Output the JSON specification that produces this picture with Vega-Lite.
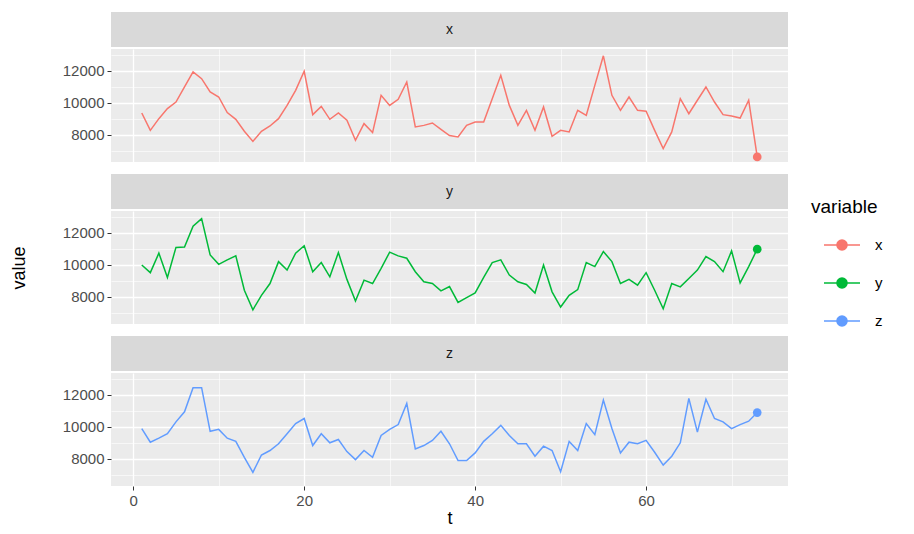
{
  "$schema": "https://vega.github.io/schema/vega-lite/v6.json",
  "background": "white",
  "padding": {"left": 10, "top": 12, "right": 0, "bottom": 0},
  "autosize": {"type": "pad"},
  "datasets": {
    "strips": [{"variable": "x"}, {"variable": "y"}, {"variable": "z"}],
    "series": [
      {"t":1,"variable":"x","value":9375},{"t":2,"variable":"x","value":8290},{"t":3,"variable":"x","value":9020},{"t":4,"variable":"x","value":9650},{"t":5,"variable":"x","value":10060},{"t":6,"variable":"x","value":11000},{"t":7,"variable":"x","value":11940},{"t":8,"variable":"x","value":11520},{"t":9,"variable":"x","value":10690},{"t":10,"variable":"x","value":10375},
      {"t":11,"variable":"x","value":9400},{"t":12,"variable":"x","value":8980},{"t":13,"variable":"x","value":8230},{"t":14,"variable":"x","value":7600},{"t":15,"variable":"x","value":8230},{"t":16,"variable":"x","value":8560},{"t":17,"variable":"x","value":9020},{"t":18,"variable":"x","value":9850},{"t":19,"variable":"x","value":10790},{"t":20,"variable":"x","value":11980},
      {"t":21,"variable":"x","value":9270},{"t":22,"variable":"x","value":9790},{"t":23,"variable":"x","value":8980},{"t":24,"variable":"x","value":9375},{"t":25,"variable":"x","value":8920},{"t":26,"variable":"x","value":7670},{"t":27,"variable":"x","value":8710},{"t":28,"variable":"x","value":8150},{"t":29,"variable":"x","value":10480},{"t":30,"variable":"x","value":9850},
      {"t":31,"variable":"x","value":10230},{"t":32,"variable":"x","value":11310},{"t":33,"variable":"x","value":8500},{"t":34,"variable":"x","value":8600},{"t":35,"variable":"x","value":8750},{"t":36,"variable":"x","value":8350},{"t":37,"variable":"x","value":7960},{"t":38,"variable":"x","value":7875},{"t":39,"variable":"x","value":8600},{"t":40,"variable":"x","value":8810},
      {"t":41,"variable":"x","value":8810},{"t":42,"variable":"x","value":10270},{"t":43,"variable":"x","value":11730},{"t":44,"variable":"x","value":9850},{"t":45,"variable":"x","value":8600},{"t":46,"variable":"x","value":9540},{"t":47,"variable":"x","value":8290},{"t":48,"variable":"x","value":9750},{"t":49,"variable":"x","value":7920},{"t":50,"variable":"x","value":8290},
      {"t":51,"variable":"x","value":8190},{"t":52,"variable":"x","value":9540},{"t":53,"variable":"x","value":9230},{"t":54,"variable":"x","value":11100},{"t":55,"variable":"x","value":12950},{"t":56,"variable":"x","value":10480},{"t":57,"variable":"x","value":9540},{"t":58,"variable":"x","value":10375},{"t":59,"variable":"x","value":9540},{"t":60,"variable":"x","value":9480},
      {"t":61,"variable":"x","value":8290},{"t":62,"variable":"x","value":7150},{"t":63,"variable":"x","value":8190},{"t":64,"variable":"x","value":10270},{"t":65,"variable":"x","value":9330},{"t":66,"variable":"x","value":10170},{"t":67,"variable":"x","value":11000},{"t":68,"variable":"x","value":10060},{"t":69,"variable":"x","value":9270},{"t":70,"variable":"x","value":9190},
      {"t":71,"variable":"x","value":9060},{"t":72,"variable":"x","value":10170},{"t":73,"variable":"x","value":6630},
      {"t":1,"variable":"y","value":10000},{"t":2,"variable":"y","value":9520},{"t":3,"variable":"y","value":10740},{"t":4,"variable":"y","value":9220},{"t":5,"variable":"y","value":11100},{"t":6,"variable":"y","value":11120},{"t":7,"variable":"y","value":12420},{"t":8,"variable":"y","value":12900},{"t":9,"variable":"y","value":10630},{"t":10,"variable":"y","value":10040},
      {"t":11,"variable":"y","value":10320},{"t":12,"variable":"y","value":10570},{"t":13,"variable":"y","value":8420},{"t":14,"variable":"y","value":7200},{"t":15,"variable":"y","value":8100},{"t":16,"variable":"y","value":8840},{"t":17,"variable":"y","value":10210},{"t":18,"variable":"y","value":9680},{"t":19,"variable":"y","value":10740},{"t":20,"variable":"y","value":11200},
      {"t":21,"variable":"y","value":9580},{"t":22,"variable":"y","value":10150},{"t":23,"variable":"y","value":9260},{"t":24,"variable":"y","value":10780},{"t":25,"variable":"y","value":9100},{"t":26,"variable":"y","value":7750},{"t":27,"variable":"y","value":9050},{"t":28,"variable":"y","value":8840},{"t":29,"variable":"y","value":9790},{"t":30,"variable":"y","value":10800},
      {"t":31,"variable":"y","value":10570},{"t":32,"variable":"y","value":10420},{"t":33,"variable":"y","value":9580},{"t":34,"variable":"y","value":8950},{"t":35,"variable":"y","value":8840},{"t":36,"variable":"y","value":8380},{"t":37,"variable":"y","value":8650},{"t":38,"variable":"y","value":7660},{"t":39,"variable":"y","value":7960},{"t":40,"variable":"y","value":8250},
      {"t":41,"variable":"y","value":9220},{"t":42,"variable":"y","value":10150},{"t":43,"variable":"y","value":10320},{"t":44,"variable":"y","value":9370},{"t":45,"variable":"y","value":8950},{"t":46,"variable":"y","value":8780},{"t":47,"variable":"y","value":8250},{"t":48,"variable":"y","value":10000},{"t":49,"variable":"y","value":8320},{"t":50,"variable":"y","value":7370},
      {"t":51,"variable":"y","value":8100},{"t":52,"variable":"y","value":8460},{"t":53,"variable":"y","value":10150},{"t":54,"variable":"y","value":9900},{"t":55,"variable":"y","value":10840},{"t":56,"variable":"y","value":10210},{"t":57,"variable":"y","value":8840},{"t":58,"variable":"y","value":9100},{"t":59,"variable":"y","value":8740},{"t":60,"variable":"y","value":9520},
      {"t":61,"variable":"y","value":8420},{"t":62,"variable":"y","value":7260},{"t":63,"variable":"y","value":8840},{"t":64,"variable":"y","value":8630},{"t":65,"variable":"y","value":9160},{"t":66,"variable":"y","value":9680},{"t":67,"variable":"y","value":10530},{"t":68,"variable":"y","value":10210},{"t":69,"variable":"y","value":9580},{"t":70,"variable":"y","value":10880},
      {"t":71,"variable":"y","value":8880},{"t":72,"variable":"y","value":9900},{"t":73,"variable":"y","value":10990},
      {"t":1,"variable":"z","value":9900},{"t":2,"variable":"z","value":9050},{"t":3,"variable":"z","value":9300},{"t":4,"variable":"z","value":9580},{"t":5,"variable":"z","value":10320},{"t":6,"variable":"z","value":10950},{"t":7,"variable":"z","value":12460},{"t":8,"variable":"z","value":12460},{"t":9,"variable":"z","value":9730},{"t":10,"variable":"z","value":9850},
      {"t":11,"variable":"z","value":9300},{"t":12,"variable":"z","value":9100},{"t":13,"variable":"z","value":8100},{"t":14,"variable":"z","value":7160},{"t":15,"variable":"z","value":8250},{"t":16,"variable":"z","value":8530},{"t":17,"variable":"z","value":8950},{"t":18,"variable":"z","value":9580},{"t":19,"variable":"z","value":10210},{"t":20,"variable":"z","value":10530},
      {"t":21,"variable":"z","value":8840},{"t":22,"variable":"z","value":9580},{"t":23,"variable":"z","value":9010},{"t":24,"variable":"z","value":9220},{"t":25,"variable":"z","value":8460},{"t":26,"variable":"z","value":7960},{"t":27,"variable":"z","value":8530},{"t":28,"variable":"z","value":8100},{"t":29,"variable":"z","value":9470},{"t":30,"variable":"z","value":9850},
      {"t":31,"variable":"z","value":10150},{"t":32,"variable":"z","value":11470},{"t":33,"variable":"z","value":8630},{"t":34,"variable":"z","value":8840},{"t":35,"variable":"z","value":9160},{"t":36,"variable":"z","value":9730},{"t":37,"variable":"z","value":8950},{"t":38,"variable":"z","value":7900},{"t":39,"variable":"z","value":7900},{"t":40,"variable":"z","value":8380},
      {"t":41,"variable":"z","value":9100},{"t":42,"variable":"z","value":9580},{"t":43,"variable":"z","value":10100},{"t":44,"variable":"z","value":9470},{"t":45,"variable":"z","value":8950},{"t":46,"variable":"z","value":8950},{"t":47,"variable":"z","value":8170},{"t":48,"variable":"z","value":8800},{"t":49,"variable":"z","value":8530},{"t":50,"variable":"z","value":7200},
      {"t":51,"variable":"z","value":9100},{"t":52,"variable":"z","value":8530},{"t":53,"variable":"z","value":10210},{"t":54,"variable":"z","value":9520},{"t":55,"variable":"z","value":11680},{"t":56,"variable":"z","value":9900},{"t":57,"variable":"z","value":8380},{"t":58,"variable":"z","value":9050},{"t":59,"variable":"z","value":8950},{"t":60,"variable":"z","value":9160},
      {"t":61,"variable":"z","value":8420},{"t":62,"variable":"z","value":7620},{"t":63,"variable":"z","value":8170},{"t":64,"variable":"z","value":9010},{"t":65,"variable":"z","value":11790},{"t":66,"variable":"z","value":9680},{"t":67,"variable":"z","value":11730},{"t":68,"variable":"z","value":10530},{"t":69,"variable":"z","value":10320},{"t":70,"variable":"z","value":9900},
      {"t":71,"variable":"z","value":10150},{"t":72,"variable":"z","value":10360},{"t":73,"variable":"z","value":10900}
    ]
  },
  "config": {
    "font": "Liberation Sans",
    "view": {"stroke": null},
    "axis": {
      "domain": false,
      "gridColor": "white",
      "tickColor": "#333333",
      "labelColor": "#4D4D4D",
      "labelFontSize": 15,
      "labelFont": "Liberation Sans",
      "titleFontSize": 18,
      "titleFontWeight": "normal",
      "titleColor": "#000000",
      "titleFont": "Liberation Sans",
      "tickSize": 4,
      "labelPadding": 3,
      "labelOverlap": false,
      "labelFlush": false
    },
    "legend": {
      "titleFontSize": 19,
      "titleFontWeight": "normal",
      "titleColor": "#000000",
      "labelFontSize": 15,
      "labelColor": "#000000",
      "titleFont": "Liberation Sans",
      "labelFont": "Liberation Sans"
    }
  },
  "spacing": 12,
  "vconcat": [
    {
      "spacing": 0,
      "vconcat": [
        {
          "width": 677, "height": 35,
          "data": {"name": "strips"},
          "transform": [{"filter": "datum.variable === 'x'"}],
          "view": {"fill": "#D9D9D9", "stroke": null},
          "mark": {"type": "text", "fontSize": 14, "color": "#1A1A1A", "font": "Liberation Sans"},
          "encoding": {"text": {"field": "variable", "type": "nominal"}}
        },
        {
          "width": 677, "height": 113,
          "data": {"name": "series"},
          "transform": [{"filter": "datum.variable === 'x'"}],
          "view": {"fill": "#EBEBEB", "stroke": null},
          "encoding": {
            "x": {"field": "t", "type": "quantitative", "scale": {"domain": [-2.6, 76.6], "nice": false, "zero": false},
                  "axis": {"values": [0,10,20,30,40,50,60,70], "labels": false, "ticks": false, "title": null,
                           "gridWidth": {"condition": {"test": "datum.value % 20 === 0", "value": 1.3}, "value": 0.6}}},
            "y": {"field": "value", "type": "quantitative", "scale": {"domain": [6310, 13375], "nice": false, "zero": false},
                  "axis": {"values": [7000,8000,9000,10000,11000,12000,13000], "title": null,
                           "labelExpr": "datum.value % 2000 === 0 ? datum.value : ''",
                           "tickOpacity": {"condition": {"test": "datum.value % 2000 === 0", "value": 1}, "value": 0},
                           "gridWidth": {"condition": {"test": "datum.value % 2000 === 0", "value": 1.3}, "value": 0.6}}},
            "color": {"field": "variable", "type": "nominal",
                      "scale": {"domain": ["x","y","z"], "range": ["#F8766D","#00BA38","#619CFF"]},
                      "legend": {"title": "variable", "orient": "none", "legendX": 700, "legendY": 186,
                                 "symbolType": "M-1,0L1,0M-0.28,0A0.28,0.28 0 1 0 0.28,0A0.28,0.28 0 1 0 -0.28,0Z",
                                 "symbolSize": 1296, "symbolStrokeWidth": 1.5, "symbolOffset": 12, "rowPadding": 10, "titlePadding": 9, "labelOffset": 14,
                                 "encode": {"symbols": {"update": {"fill": {"scale": "color", "field": "value"}, "stroke": {"scale": "color", "field": "value"}, "opacity": {"value": 1}}}}}}
          },
          "layer": [
            {"mark": {"type": "line", "strokeWidth": 1.5}},
            {"transform": [{"filter": "datum.t === 73"}], "mark": {"type": "circle", "size": 75, "opacity": 1}}
          ]
        }
      ]
    },
    {
      "spacing": 0,
      "vconcat": [
        {
          "width": 677, "height": 35,
          "data": {"name": "strips"},
          "transform": [{"filter": "datum.variable === 'y'"}],
          "view": {"fill": "#D9D9D9", "stroke": null},
          "mark": {"type": "text", "fontSize": 14, "color": "#1A1A1A", "font": "Liberation Sans"},
          "encoding": {"text": {"field": "variable", "type": "nominal"}}
        },
        {
          "width": 677, "height": 113,
          "data": {"name": "series"},
          "transform": [{"filter": "datum.variable === 'y'"}],
          "view": {"fill": "#EBEBEB", "stroke": null},
          "encoding": {
            "x": {"field": "t", "type": "quantitative", "scale": {"domain": [-2.6, 76.6], "nice": false, "zero": false},
                  "axis": {"values": [0,10,20,30,40,50,60,70], "labels": false, "ticks": false, "title": null,
                           "gridWidth": {"condition": {"test": "datum.value % 20 === 0", "value": 1.3}, "value": 0.6}}},
            "y": {"field": "value", "type": "quantitative", "scale": {"domain": [6310, 13375], "nice": false, "zero": false},
                  "axis": {"values": [7000,8000,9000,10000,11000,12000,13000], "title": "value", "titlePadding": 34,
                           "labelExpr": "datum.value % 2000 === 0 ? datum.value : ''",
                           "tickOpacity": {"condition": {"test": "datum.value % 2000 === 0", "value": 1}, "value": 0},
                           "gridWidth": {"condition": {"test": "datum.value % 2000 === 0", "value": 1.3}, "value": 0.6}}},
            "color": {"field": "variable", "type": "nominal",
                      "scale": {"domain": ["x","y","z"], "range": ["#F8766D","#00BA38","#619CFF"]},
                      "legend": {"title": "variable", "orient": "none", "legendX": 700, "legendY": 186,
                                 "symbolType": "M-1,0L1,0M-0.28,0A0.28,0.28 0 1 0 0.28,0A0.28,0.28 0 1 0 -0.28,0Z",
                                 "symbolSize": 1296, "symbolStrokeWidth": 1.5, "symbolOffset": 12, "rowPadding": 10, "titlePadding": 9, "labelOffset": 14,
                                 "encode": {"symbols": {"update": {"fill": {"scale": "color", "field": "value"}, "stroke": {"scale": "color", "field": "value"}, "opacity": {"value": 1}}}}}}
          },
          "layer": [
            {"mark": {"type": "line", "strokeWidth": 1.5}},
            {"transform": [{"filter": "datum.t === 73"}], "mark": {"type": "circle", "size": 75, "opacity": 1}}
          ]
        }
      ]
    },
    {
      "spacing": 0,
      "vconcat": [
        {
          "width": 677, "height": 35,
          "data": {"name": "strips"},
          "transform": [{"filter": "datum.variable === 'z'"}],
          "view": {"fill": "#D9D9D9", "stroke": null},
          "mark": {"type": "text", "fontSize": 14, "color": "#1A1A1A", "font": "Liberation Sans"},
          "encoding": {"text": {"field": "variable", "type": "nominal"}}
        },
        {
          "width": 677, "height": 113,
          "data": {"name": "series"},
          "transform": [{"filter": "datum.variable === 'z'"}],
          "view": {"fill": "#EBEBEB", "stroke": null},
          "encoding": {
            "x": {"field": "t", "type": "quantitative", "scale": {"domain": [-2.6, 76.6], "nice": false, "zero": false},
                  "axis": {"values": [0,10,20,30,40,50,60,70], "title": "t", "titlePadding": 1,
                           "labelExpr": "datum.value % 20 === 0 ? datum.value : ''",
                           "tickOpacity": {"condition": {"test": "datum.value % 20 === 0", "value": 1}, "value": 0},
                           "gridWidth": {"condition": {"test": "datum.value % 20 === 0", "value": 1.3}, "value": 0.6}}},
            "y": {"field": "value", "type": "quantitative", "scale": {"domain": [6310, 13375], "nice": false, "zero": false},
                  "axis": {"values": [7000,8000,9000,10000,11000,12000,13000], "title": null,
                           "labelExpr": "datum.value % 2000 === 0 ? datum.value : ''",
                           "tickOpacity": {"condition": {"test": "datum.value % 2000 === 0", "value": 1}, "value": 0},
                           "gridWidth": {"condition": {"test": "datum.value % 2000 === 0", "value": 1.3}, "value": 0.6}}},
            "color": {"field": "variable", "type": "nominal",
                      "scale": {"domain": ["x","y","z"], "range": ["#F8766D","#00BA38","#619CFF"]},
                      "legend": {"title": "variable", "orient": "none", "legendX": 700, "legendY": 186,
                                 "symbolType": "M-1,0L1,0M-0.28,0A0.28,0.28 0 1 0 0.28,0A0.28,0.28 0 1 0 -0.28,0Z",
                                 "symbolSize": 1296, "symbolStrokeWidth": 1.5, "symbolOffset": 12, "rowPadding": 10, "titlePadding": 9, "labelOffset": 14,
                                 "encode": {"symbols": {"update": {"fill": {"scale": "color", "field": "value"}, "stroke": {"scale": "color", "field": "value"}, "opacity": {"value": 1}}}}}}
          },
          "layer": [
            {"mark": {"type": "line", "strokeWidth": 1.5}},
            {"transform": [{"filter": "datum.t === 73"}], "mark": {"type": "circle", "size": 75, "opacity": 1}}
          ]
        }
      ]
    }
  ]
}
